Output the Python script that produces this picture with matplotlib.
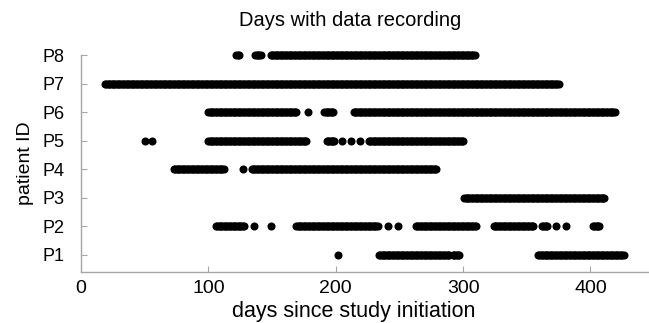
import numpy as np
import matplotlib
matplotlib.use("Agg")
import matplotlib.pyplot as plt

plt.rcParams['font.family'] = ['Liberation Sans', 'DejaVu Sans']

patients = ["P1", "P2", "P3", "P4", "P5", "P6", "P7", "P8"]
# recording periods per patient as (first day, last day), inclusive
segments = {
    "P1": [(202, 202), (234, 289), (292, 297), (359, 426)],
    "P2": [(106, 128), (136, 136), (149, 149), (169, 233), (241, 241), (249, 249),
           (263, 310), (324, 355), (362, 366), (373, 373), (381, 381), (402, 407)],
    "P3": [(301, 411)],
    "P4": [(73, 112), (127, 127), (134, 279)],
    "P5": [(50, 50), (56, 56), (100, 177), (193, 199), (205, 205), (212, 212),
           (219, 219), (226, 300)],
    "P6": [(100, 169), (178, 178), (191, 198), (214, 419)],
    "P7": [(19, 375)],
    "P8": [(122, 124), (137, 141), (149, 309)],
}
xticks = [0, 100, 200, 300, 400]

fig = plt.figure(figsize=(6.49, 3.23), dpi=100)
ax = fig.add_axes([81 / 649, 1 - 272 / 323, (649 - 81) / 649, (272 - 55) / 323])

for i, p in enumerate(patients):
    days = np.concatenate([np.arange(a, b + 1) for a, b in segments[p]])
    ax.plot(days, np.full(days.shape, i + 1), linestyle='none', marker='o',
            ms=5.8, color='black', markeredgewidth=0, clip_on=False)

ax.set_xlim(0, 446)
ax.set_ylim(0.4, 8)
ax.set_xticks(xticks)
ax.set_yticks(range(1, len(patients) + 1))
ax.set_yticklabels(patients)
for s in ['top', 'right']:
    ax.spines[s].set_visible(False)
for s in ['left', 'bottom']:
    ax.spines[s].set_color('#a6a6a6')
    ax.spines[s].set_linewidth(1.0)
ax.tick_params(direction='in', length=4, color='#a6a6a6')
ax.tick_params(axis='x', labelsize=14, pad=6)
ax.tick_params(axis='y', labelsize=13, pad=12)
ax.set_xlabel('days since study initiation', fontsize=15.5)
ax.xaxis.set_label_coords((354 - 81) / 568, -0.135, transform=ax.transAxes)
ax.xaxis.label.set_va('top')
ax.set_ylabel('patient ID', fontsize=14, labelpad=6)
ax.set_title('Days with data recording', fontsize=14.5, x=(350 - 81) / 568, pad=21)

fig.savefig('out.png', dpi=100)
